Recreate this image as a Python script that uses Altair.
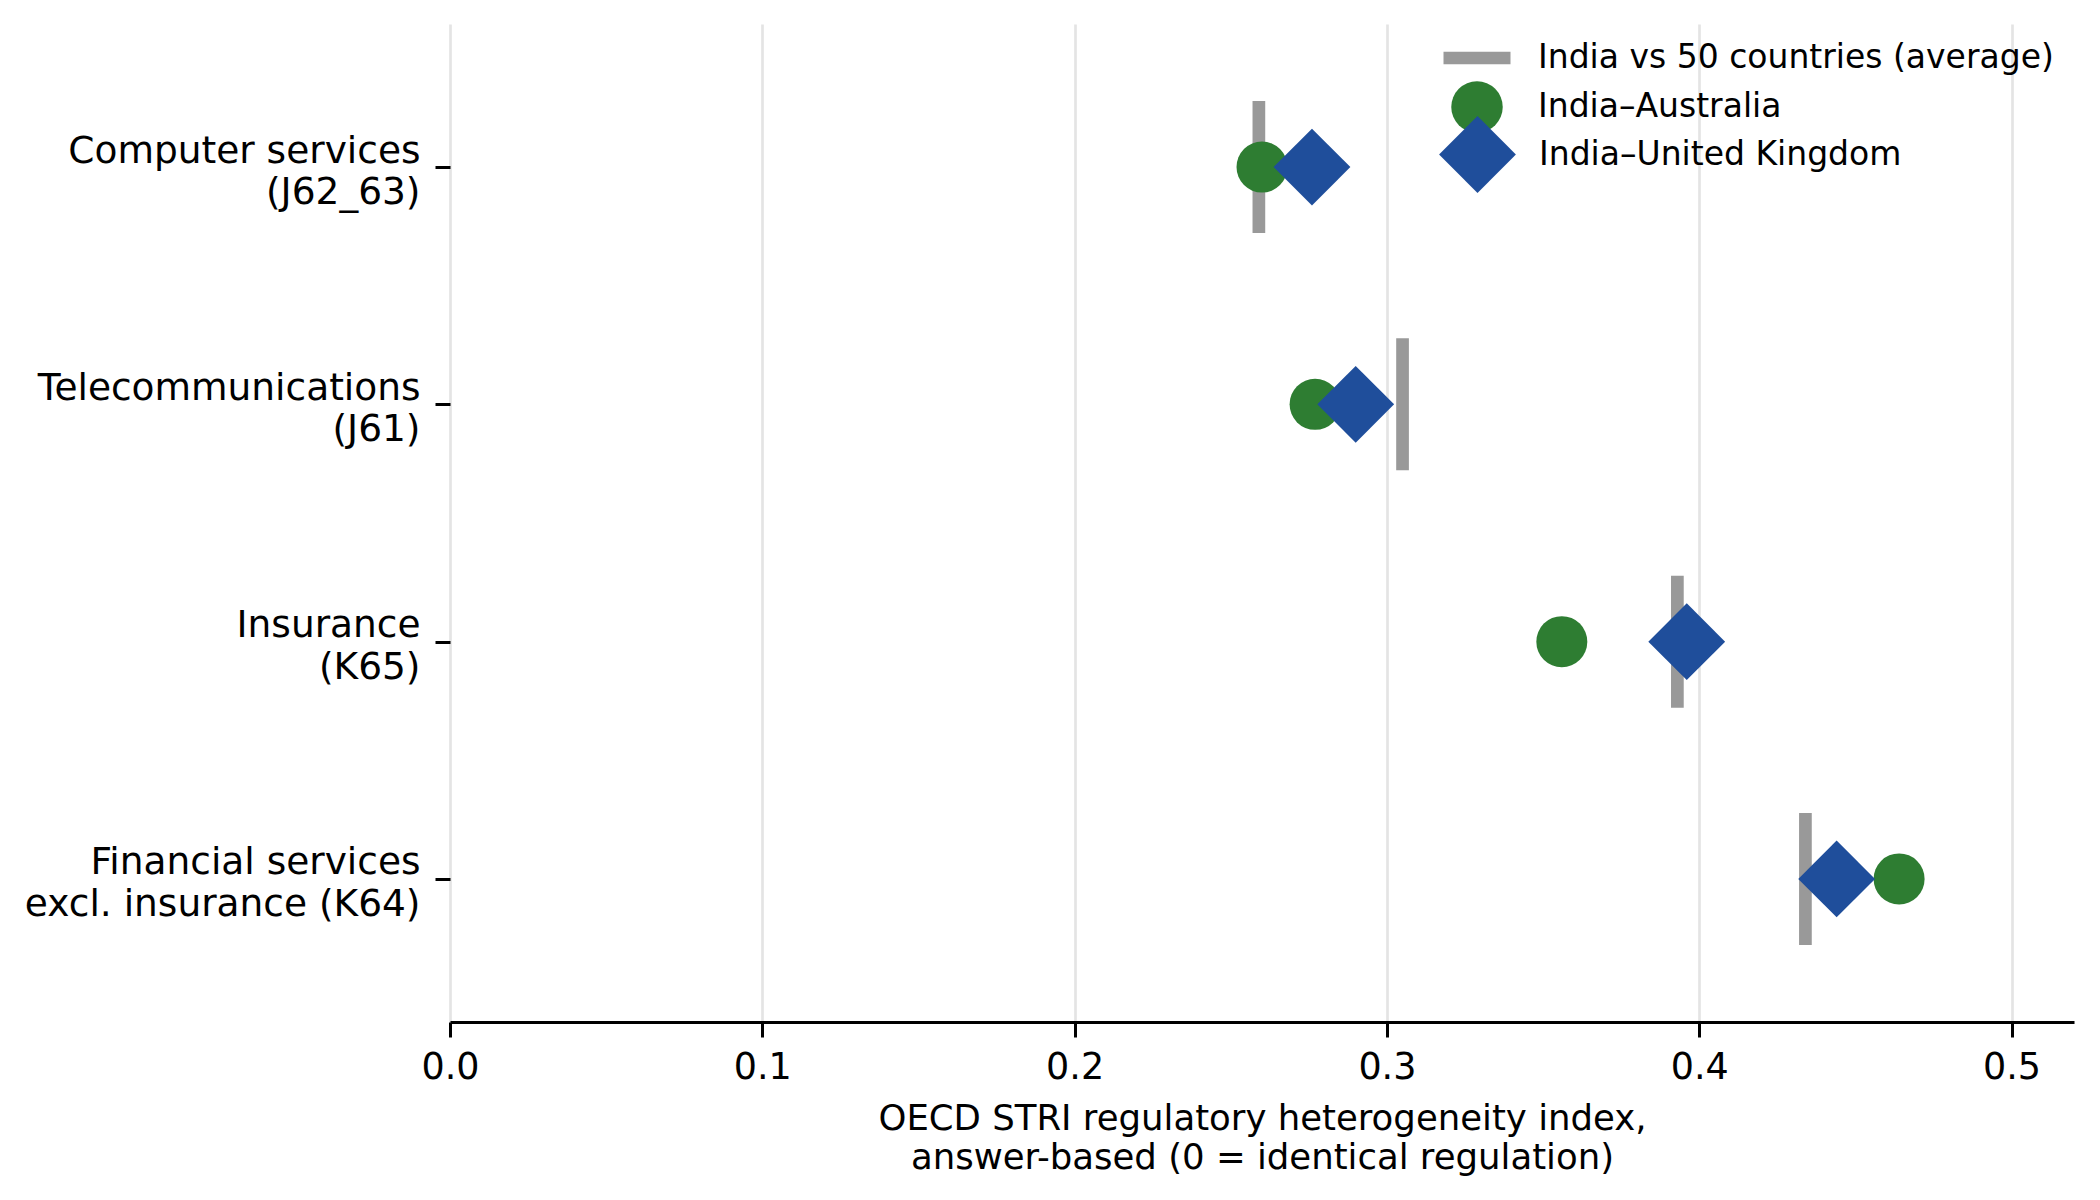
import altair as alt
import pandas as pd

# Sectors (top to bottom) and regulatory heterogeneity index values
sectors = [
    "Computer services\n(J62_63)",
    "Telecommunications\n(J61)",
    "Insurance\n(K65)",
    "Financial services\nexcl. insurance (K64)",
]
avg_50 = [0.259, 0.305, 0.393, 0.434]
india_aus = [0.260, 0.277, 0.356, 0.464]
india_uk = [0.276, 0.290, 0.396, 0.444]

series_names = [
    "India vs 50 countries (average)",
    "India\u2013Australia",
    "India\u2013United Kingdom",
]
series_colors = ["#999999", "#2e7d32", "#1f4e9b"]

FONT = "DejaVu Sans"


def frame(values, name):
    return pd.DataFrame({"sector": sectors, "value": values, "series": name})


x_enc = alt.X(
    "value:Q",
    scale=alt.Scale(domain=[0, 0.52], nice=False, zero=False),
    axis=alt.Axis(
        values=[0, 0.1, 0.2, 0.3, 0.4, 0.5],
        format=".1f",
        title=[
            "OECD STRI regulatory heterogeneity index,",
            "answer-based (0 = identical regulation)",
        ],
        grid=True,
        gridColor="#e4e4e4",
        gridWidth=2.7,
        domainColor="black",
        domainWidth=3,
        tickColor="black",
        tickWidth=3,
        tickSize=15,
        labelFlush=False,
        labelOverlap=False,
        labelFont=FONT,
        labelFontSize=36.5,
        labelColor="black",
        labelPadding=12,
        titleFont=FONT,
        titleFontSize=35.5,
        titleFontWeight="normal",
        titleColor="black",
        titleLineHeight=39,
        titlePadding=16,
    ),
)

y_enc = alt.Y(
    "sector:N",
    sort=sectors,
    scale=alt.Scale(type="point", padding=0.603),
    axis=alt.Axis(
        title=None,
        grid=False,
        domain=False,
        ticks=True,
        tickColor="black",
        tickWidth=3,
        tickSize=15,
        labelExpr="split(datum.label, '\\n')",
        labelFont=FONT,
        labelFontSize=37.5,
        labelLineHeight=41.5,
        labelOffset=-16,
        labelColor="black",
        labelPadding=15,
        labelLimit=0,
        labelAlign="right",
        labelBaseline="middle",
    ),
)


def legend(x, y, **kw):
    return alt.Legend(
        title=None,
        orient="none",
        legendX=x,
        legendY=y,
        padding=0,
        labelLimit=0,
        labelFont=FONT,
        labelFontSize=33,
        labelColor="black",
        **kw,
    )


avg_layer = alt.Chart(frame(avg_50, series_names[0])).mark_tick(
    thickness=12.7, size=132, opacity=1
).encode(
    x=x_enc,
    y=y_enc,
    color=alt.Color(
        "series:N",
        scale=alt.Scale(domain=[series_names[0]], range=[series_colors[0]]),
        legend=legend(
            987, -6,
            symbolType="stroke",
            symbolSize=4489,
            symbolStrokeWidth=12.7,
            symbolStrokeColor=series_colors[0],
            labelOffset=21,
        ),
    ),
)

aus_layer = alt.Chart(frame(india_aus, series_names[1])).mark_point(
    shape="circle", filled=True, size=2600, opacity=1, strokeWidth=0
).encode(
    x=x_enc,
    y=y_enc,
    color=alt.Color(
        "series:N",
        scale=alt.Scale(domain=[series_names[1]], range=[series_colors[1]]),
        legend=legend(
            1001, 57,
            symbolType="circle",
            symbolSize=2650,
            symbolStrokeWidth=0,
            symbolOpacity=1,
            labelOffset=35,
        ),
    ),
)

uk_layer = alt.Chart(frame(india_uk, series_names[2])).mark_point(
    shape="diamond", filled=True, size=5900, opacity=1, strokeWidth=0
).encode(
    x=x_enc,
    y=y_enc,
    color=alt.Color(
        "series:N",
        scale=alt.Scale(domain=[series_names[2]], range=[series_colors[2]]),
        legend=legend(
            989, 92,
            symbolType="diamond",
            symbolSize=5900,
            symbolStrokeWidth=0,
            symbolOpacity=1,
            labelOffset=23,
        ),
    ),
)

chart = (
    alt.layer(avg_layer, aus_layer, uk_layer)
    .resolve_scale(color="independent")
    .properties(
        width=1624,
        height=998,
        autosize=alt.AutoSizeParams(type="none"),
        padding={"left": 450, "top": 24, "right": 26, "bottom": 178},
        background="white",
    )
    .configure_view(stroke=None)
)

chart.save("out.html", embed_options={"renderer": "svg", "actions": False})
